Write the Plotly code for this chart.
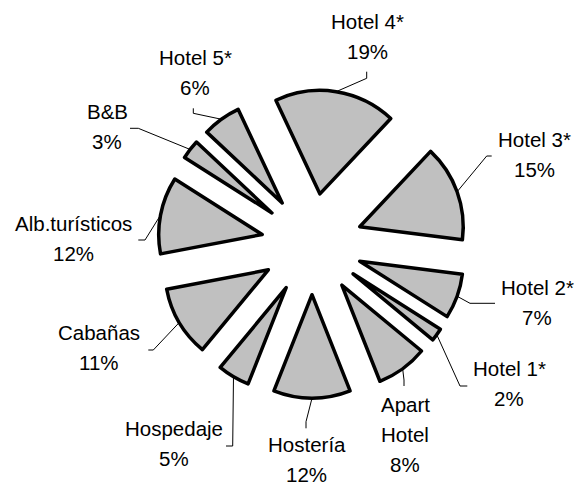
import math
import plotly.graph_objects as go

# ---- data ----
categories = ["Hotel 4*", "Hotel 3*", "Hotel 2*", "Hotel 1*", "Apart Hotel",
              "Hostería", "Hospedaje", "Cabañas", "Alb.turísticos", "B&B", "Hotel 5*"]
label_lines = [["Hotel 4*"], ["Hotel 3*"], ["Hotel 2*"], ["Hotel 1*"], ["Apart", "Hotel"],
               ["Hostería"], ["Hospedaje"], ["Cabañas"], ["Alb.turísticos"], ["B&B"], ["Hotel 5*"]]
shares = [19, 15, 7, 2, 8, 12, 5, 11, 12, 3, 6]

# ---- layout constants (pixels) ----
W, H = 574, 483
CX, CY = 312.0, 244.0      # pie centre
R = 103.5                  # pie radius
PULL = 0.49                # explosion (fraction of radius)
ROT = -25.2                # start angle of first slice (deg, clockwise from 12 o'clock)
LINE_H = 30.0

# label anchor: centre x, centre y of first text line
label_pos = [(367, 21.5), (534.5, 139), (537, 287.5), (509, 368.5), (405, 404.5),
             (306.5, 444), (174, 428.5), (99, 332), (73.5, 223.5), (107, 111), (195, 57)]
# leader line: start point near label, elbow point
leader_pts = [((366.7, 71.7), (366.7, 78.3)),
              ((491.7, 156), (486.7, 156)),
              ((495, 303.3), (470, 303.3)),
              ((467.3, 386), (460, 386)),
              ((404, 386), (404, 380)),
              ((306, 428.3), (306, 421.7)),
              ((226, 446), (232.7, 446)),
              ((148.3, 350), (153.3, 350)),
              ((138.3, 240), (145, 240)),
              ((130, 128.3), (138.3, 128.3)),
              ((193.3, 108.3), (193.3, 113.3))]


def px(x):
    return x / W


def py(y):
    return 1 - y / H


box = 2 * R * (1 + PULL)
dom_y = [py(CY) - box / 2 / H, py(CY) + box / 2 / H]
dom_x = [px(CX) - 0.3, px(CX) + 0.3]

fig = go.Figure(go.Pie(
    labels=categories, values=shares, sort=False, direction="clockwise",
    rotation=ROT, pull=[PULL] * len(shares), textinfo="none",
    marker=dict(colors=["#C0C0C0"] * len(shares), line=dict(color="#000000", width=3.5)),
    domain=dict(x=dom_x, y=dom_y), showlegend=False, hoverinfo="label+percent",
))

total = sum(shares)
annotations = []
shapes = []
cum = 0.0
font = dict(family="Arial, Liberation Sans, sans-serif", size=20.5, color="#000000")
for i, v in enumerate(shares):
    mid = math.radians(ROT + 360 * (cum + v / 2) / total)
    cum += v
    d = R * PULL + R
    ax = CX + d * math.sin(mid)
    ay = CY - d * math.cos(mid)
    lx, ly = label_pos[i]
    lines = label_lines[i] + [f"{round(100 * v / total)}%"]
    for k, t in enumerate(lines):
        annotations.append(dict(x=px(lx), y=py(ly + k * LINE_H), xref="paper", yref="paper",
                                text=t, showarrow=False, xanchor="center", yanchor="middle",
                                font=font))
    (sx, sy), (ex, ey) = leader_pts[i]
    path = f"M {px(sx)} {py(sy)} L {px(ex)} {py(ey)} L {px(ax)} {py(ay)}"
    shapes.append(dict(type="path", xref="paper", yref="paper", path=path,
                       line=dict(color="#000000", width=1)))

fig.update_layout(width=W, height=H, margin=dict(l=0, r=0, t=0, b=0),
                  paper_bgcolor="#FFFFFF", plot_bgcolor="#FFFFFF",
                  annotations=annotations, shapes=shapes)
fig.write_html("out.html", config={"displayModeBar": False},
               post_script="document.body.style.margin='0px';document.body.style.overflow='hidden';")
